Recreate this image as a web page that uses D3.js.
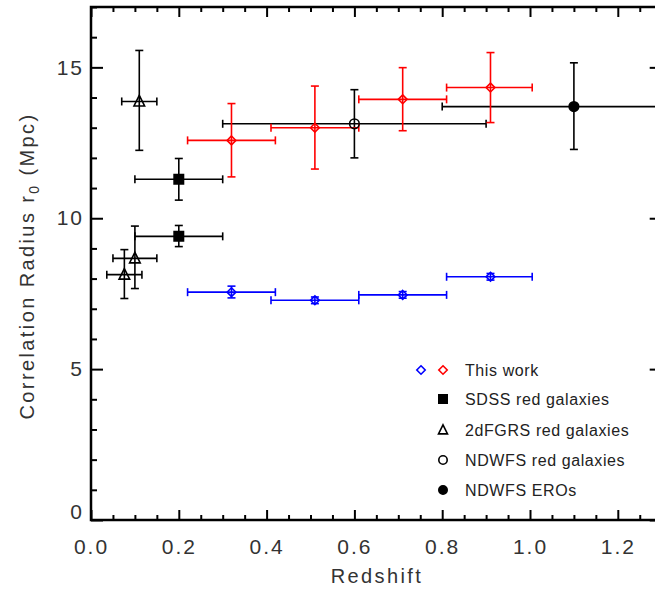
<!DOCTYPE html>
<html>
<head>
<meta charset="UTF-8">
<title>Correlation radius vs redshift</title>
<script src="https://d3js.org/d3.v7.min.js"></script>
<style>
  body { margin: 0; background: #fff; }
  svg { display: block; font-family: "Liberation Sans", Arial, sans-serif; }
  .tick text { font-size: 21px; letter-spacing: 2px; fill: #333; }
  .tick line { stroke: #000; stroke-width: 2; }
  .domain { display: none; }
  .lbl { font-size: 20px; letter-spacing: 2.4px; fill: #333; }
  .leg { font-size: 16px; letter-spacing: 0.6px; fill: #222; }
</style>
</head>
<body>
<svg width="655" height="592"></svg>
<script>
// ---- data ----
// This work (same redshift bins for both colour samples)
const thisZ   = [0.32, 0.51, 0.71, 0.91];
const thisZLo = [0.22, 0.41, 0.61, 0.81];
const thisZHi = [0.42, 0.61, 0.81, 1.005];
const redR0   = [12.58, 13.00, 13.94, 14.33];
const redR0Lo = [11.37, 11.63, 12.90, 13.17];
const redR0Hi = [13.80, 14.38, 14.99, 15.49];
const blueR0   = [7.55, 7.28, 7.46, 8.06];
const blueR0Lo = [7.36, 7.17, 7.35, 7.95];
const blueR0Hi = [7.75, 7.39, 7.57, 8.17];

// SDSS red galaxies
const sdssZ   = [0.20, 0.20];
const sdssZLo = [0.10, 0.10];
const sdssZHi = [0.30, 0.30];
const sdssR0   = [11.29, 9.40];
const sdssR0Lo = [10.60, 9.06];
const sdssR0Hi = [11.98, 9.76];

// 2dFGRS red galaxies
const twodfZ   = [0.11, 0.10, 0.076];
const twodfZLo = [0.07, 0.05, 0.036];
const twodfZHi = [0.15, 0.15, 0.116];
const twodfR0   = [13.87, 8.67, 8.13];
const twodfR0Lo = [12.25, 7.67, 7.34];
const twodfR0Hi = [15.56, 9.74, 8.96];

// NDWFS red galaxies
const ndwfsZ = [0.60], ndwfsZLo = [0.30], ndwfsZHi = [0.90];
const ndwfsR0 = [13.13], ndwfsR0Lo = [12.00], ndwfsR0Hi = [14.26];

// NDWFS EROs
const eroZ = [1.10], eroZLo = [0.80], eroZHi = [1.40];
const eroR0 = [13.70], eroR0Lo = [12.28], eroR0Hi = [15.15];

const xMajor = [0, 0.2, 0.4, 0.6, 0.8, 1.0, 1.2];
const yMajor = [0, 5, 10, 15];
const legendLabels = ["This work", "SDSS red galaxies", "2dFGRS red galaxies", "NDWFS red galaxies", "NDWFS EROs"];

// ---- layout ----
const svg = d3.select("svg");
const pLeft = 91, pTop = 7, pBottom = 520;
const x = d3.scaleLinear().domain([0, 1.3]).range([pLeft, pLeft + 1.3 * 439]);
const y = d3.scaleLinear().domain([0, 17]).range([pBottom, pTop]);
const pRight = x(1.3);

const xMinor = d3.range(0, 1.31, 0.05).filter(v => Math.abs(v * 5 - Math.round(v * 5)) > 1e-6);
const yMinor = d3.range(0, 17.01, 1).filter(v => v % 5 !== 0);

// minor ticks
svg.append("g").attr("transform", `translate(0,${pBottom})`)
  .call(d3.axisBottom(x).tickValues(xMinor).tickSize(-5).tickFormat(""));
svg.append("g").attr("transform", `translate(0,${pTop})`)
  .call(d3.axisBottom(x).tickValues(xMinor).tickSize(5).tickFormat(""));
svg.append("g").attr("transform", `translate(${pLeft},0)`)
  .call(d3.axisLeft(y).tickValues(yMinor).tickSize(-6).tickFormat(""));
svg.append("g").attr("transform", `translate(${pRight},0)`)
  .call(d3.axisLeft(y).tickValues(yMinor).tickSize(6).tickFormat(""));

// major ticks
svg.append("g").attr("transform", `translate(0,${pBottom})`)
  .call(d3.axisBottom(x).tickValues(xMajor).tickSize(-10).tickPadding(19).tickFormat(d3.format(".1f")));
svg.append("g").attr("transform", `translate(0,${pTop})`)
  .call(d3.axisBottom(x).tickValues(xMajor).tickSize(10).tickFormat(""));
const yAx = svg.append("g").attr("transform", `translate(${pLeft},0)`)
  .call(d3.axisLeft(y).tickValues(yMajor).tickSize(-12).tickPadding(7).tickFormat(d3.format("d")));
yAx.selectAll(".tick").filter(d => d === 0).select("text").attr("dy", "-0.05em");
svg.append("g").attr("transform", `translate(${pRight},0)`)
  .call(d3.axisLeft(y).tickValues(yMajor).tickSize(12).tickFormat(""));

// frame
svg.append("rect")
  .attr("x", pLeft).attr("y", pTop)
  .attr("width", pRight - pLeft).attr("height", pBottom - pTop)
  .attr("fill", "none").attr("stroke", "#000").attr("stroke-width", 2.5);

// axis titles
svg.append("text").attr("class", "lbl")
  .attr("x", 377).attr("y", 583).attr("text-anchor", "middle")
  .text("Redshift");
const yl = svg.append("text").attr("class", "lbl")
  .attr("transform", "translate(34,266) rotate(-90)")
  .attr("text-anchor", "middle");
yl.append("tspan").text("Correlation Radius r");
yl.append("tspan").attr("dy", 5).style("font-size", "14px").text("0");
yl.append("tspan").attr("dy", -5).text(" (Mpc)");

// ---- error bars + markers ----
const cap = 4;
function errorBars(zs, zlo, zhi, r, rlo, rhi, color) {
  const g = svg.append("g").attr("stroke", color).attr("stroke-width", 1.6).attr("fill", "none");
  zs.forEach((z, i) => {
    const cx = x(z), cy = y(r[i]);
    const x0 = x(zlo[i]), x1 = x(zhi[i]), y0 = y(rlo[i]), y1 = y(rhi[i]);
    g.append("line").attr("x1", x0).attr("x2", x1).attr("y1", cy).attr("y2", cy);
    g.append("line").attr("x1", x0).attr("x2", x0).attr("y1", cy - cap).attr("y2", cy + cap);
    g.append("line").attr("x1", x1).attr("x2", x1).attr("y1", cy - cap).attr("y2", cy + cap);
    g.append("line").attr("x1", cx).attr("x2", cx).attr("y1", y0).attr("y2", y1);
    g.append("line").attr("x1", cx - cap).attr("x2", cx + cap).attr("y1", y0).attr("y2", y0);
    g.append("line").attr("x1", cx - cap).attr("x2", cx + cap).attr("y1", y1).attr("y2", y1);
  });
}

const shapes = {
  diamond: r => `M0,${-r}L${r},0L0,${r}L${-r},0Z`,
  square: r => `M${-r},${-r}H${r}V${r}H${-r}Z`,
  triangle: r => `M0,${-r * 1.15}L${r},${r * 0.85}L${-r},${r * 0.85}Z`,
  circle: r => `M${r},0A${r},${r} 0 1,1 ${-r},0A${r},${r} 0 1,1 ${r},0Z`
};

function markers(zs, r, shape, size, color, filled) {
  svg.append("g").selectAll("path").data(zs).join("path")
    .attr("transform", (z, i) => `translate(${x(z)},${y(r[i])})`)
    .attr("d", shapes[shape](size))
    .attr("fill", filled ? color : "none")
    .attr("stroke", color).attr("stroke-width", 1.6);
}

errorBars(twodfZ, twodfZLo, twodfZHi, twodfR0, twodfR0Lo, twodfR0Hi, "#000");
errorBars(sdssZ, sdssZLo, sdssZHi, sdssR0, sdssR0Lo, sdssR0Hi, "#000");
errorBars(ndwfsZ, ndwfsZLo, ndwfsZHi, ndwfsR0, ndwfsR0Lo, ndwfsR0Hi, "#000");
errorBars(eroZ, eroZLo, eroZHi, eroR0, eroR0Lo, eroR0Hi, "#000");
errorBars(thisZ, thisZLo, thisZHi, blueR0, blueR0Lo, blueR0Hi, "#0000ff");
errorBars(thisZ, thisZLo, thisZHi, redR0, redR0Lo, redR0Hi, "#ff0000");

markers(twodfZ, twodfR0, "triangle", 5.3, "#000", false);
markers(sdssZ, sdssR0, "square", 4.7, "#000", true);
markers(ndwfsZ, ndwfsR0, "circle", 4.8, "#000", false);
markers(eroZ, eroR0, "circle", 4.8, "#000", true);
markers(thisZ, blueR0, "diamond", 4.4, "#0000ff", false);
markers(thisZ, redR0, "diamond", 4.4, "#ff0000", false);

// ---- legend ----
const legY = [370, 399, 430, 460, 490];
const legSym = [
  [["diamond", "#0000ff", false, 421], ["diamond", "#ff0000", false, 443]],
  [["square", "#000", true, 443]],
  [["triangle", "#000", false, 443]],
  [["circle", "#000", false, 443]],
  [["circle", "#000", true, 443]]
];
const leg = svg.append("g");
legendLabels.forEach((label, i) => {
  legSym[i].forEach(([shape, color, filled, sx]) => {
    leg.append("path")
      .attr("transform", `translate(${sx},${legY[i]})`)
      .attr("d", shapes[shape](shape === "triangle" ? 4.5 : 4.2))
      .attr("fill", filled ? color : "none")
      .attr("stroke", color).attr("stroke-width", 1.6);
  });
  leg.append("text").attr("class", "leg")
    .attr("x", 465).attr("y", legY[i]).attr("dy", "0.36em")
    .text(label);
});
</script>
</body>
</html>
